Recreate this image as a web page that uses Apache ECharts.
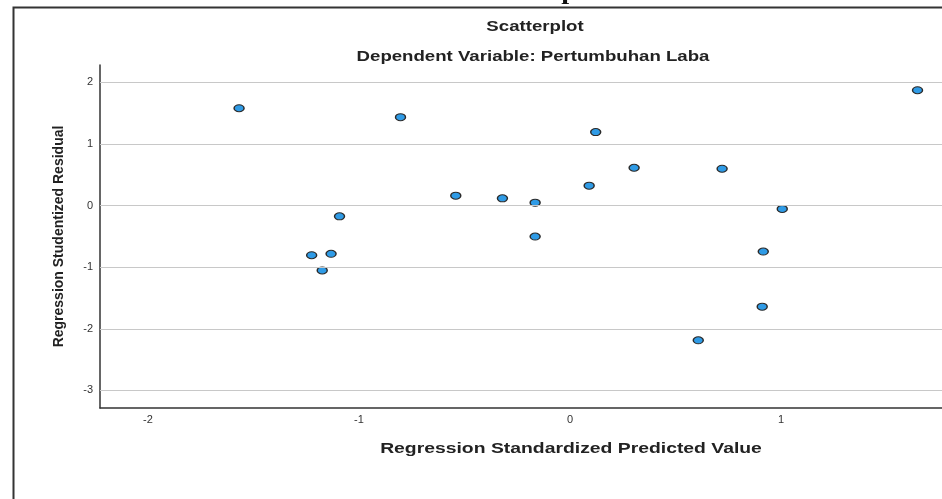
<!DOCTYPE html>
<html>
<head>
<meta charset="utf-8">
<script src="https://cdn.jsdelivr.net/npm/echarts@6/dist/echarts.min.js"></script>
<style>
  html, body { margin: 0; padding: 0; background: #fff; }
  #chart { width: 942px; height: 499px; }
</style>
</head>
<body>
<div id="chart"></div>
<script>
// predicted value (x) vs studentized residual (y)
const predicted = [-1.568, -0.803, -0.541, -0.320, -0.165, -1.092, -0.165, -1.224, -1.132, -1.174,
                   1.647, 0.122, 0.304, 0.721, 0.091, 1.006, 0.916, 0.911, 0.608];
const residual  = [1.579, 1.434, 0.160, 0.117, 0.047, -0.175, -0.503, -0.806, -0.783, -1.053,
                   1.871, 1.191, 0.613, 0.597, 0.322, -0.055, -0.746, -1.641, -2.186];
const xTicks = [-2, -1, 0, 1];
const yTicks = [-3, -2, -1, 0, 1, 2];

const font = 'Liberation Sans, Arial, sans-serif';
const chart = echarts.init(document.getElementById('chart'));

const points = predicted.map((x, i) => [x, residual[i]]);

// the source picture is stretched sideways, so the horizontal texts get scaleX
function wideText(text, x, y, size, sx) {
  return {
    type: 'text', x: x, y: y, scaleX: sx,
    style: {
      text: text, textAlign: 'center', textVerticalAlign: 'middle',
      font: 'bold ' + size + 'px ' + font, fill: '#222'
    }
  };
}

const option = {
  animation: false,
  grid: { left: 100, top: 65, right: 0, bottom: 91 },
  graphic: [
    // outer frame of the SPSS output box
    {
      type: 'rect', left: 11, top: 5,
      shape: { width: 1000, height: 600 },
      style: { fill: 'none', stroke: '#333', lineWidth: 2 }
    },
    // heading above, mostly cut off by the crop
    {
      type: 'text', x: 474, y: 4, scaleX: 1.3,
      style: {
        text: 'Scatterplot', textVerticalAlign: 'bottom',
        font: 'bold 22px "Liberation Serif", serif', fill: '#111'
      }
    },
    wideText('Scatterplot', 535, 27, 14, 1.33),
    wideText('Dependent Variable: Pertumbuhan Laba', 533, 57, 14, 1.33),
    wideText('Regression Standardized Predicted Value', 571, 449, 15, 1.29)
  ],
  xAxis: {
    type: 'value',
    min: -2.227, max: 1.763,
    axisLine: { onZero: false, lineStyle: { color: '#333', width: 1.5 } },
    axisTick: { show: false },
    splitLine: { show: false },
    axisLabel: {
      customValues: xTicks, margin: 6,
      fontFamily: font, fontSize: 11, color: '#333'
    }
  },
  yAxis: {
    type: 'value',
    min: -3.285, max: 2.28,
    name: 'Regression Studentized Residual',
    nameLocation: 'middle', nameGap: 34,
    nameTextStyle: { fontFamily: font, fontSize: 14, fontWeight: 'bold', color: '#222' },
    axisLine: { show: true, onZero: false, lineStyle: { color: '#333', width: 1.5 } },
    axisTick: { show: false },
    splitLine: { show: false },
    axisLabel: {
      customValues: yTicks, margin: 7,
      fontFamily: font, fontSize: 11, color: '#333'
    }
  },
  series: [
    {
      type: 'scatter',
      data: points,
      symbol: 'circle',
      symbolSize: [10, 7],
      itemStyle: { color: '#2f9be6', borderColor: '#2a2a2a', borderWidth: 1.2, opacity: 1 },
      markLine: {
        silent: true,
        symbol: 'none',
        label: { show: false },
        lineStyle: { color: '#c8c8c8', width: 1, type: 'solid' },
        data: yTicks.map(v => ({ yAxis: v }))
      },
      z: 3
    }
  ]
};

chart.setOption(option);
</script>
</body>
</html>
